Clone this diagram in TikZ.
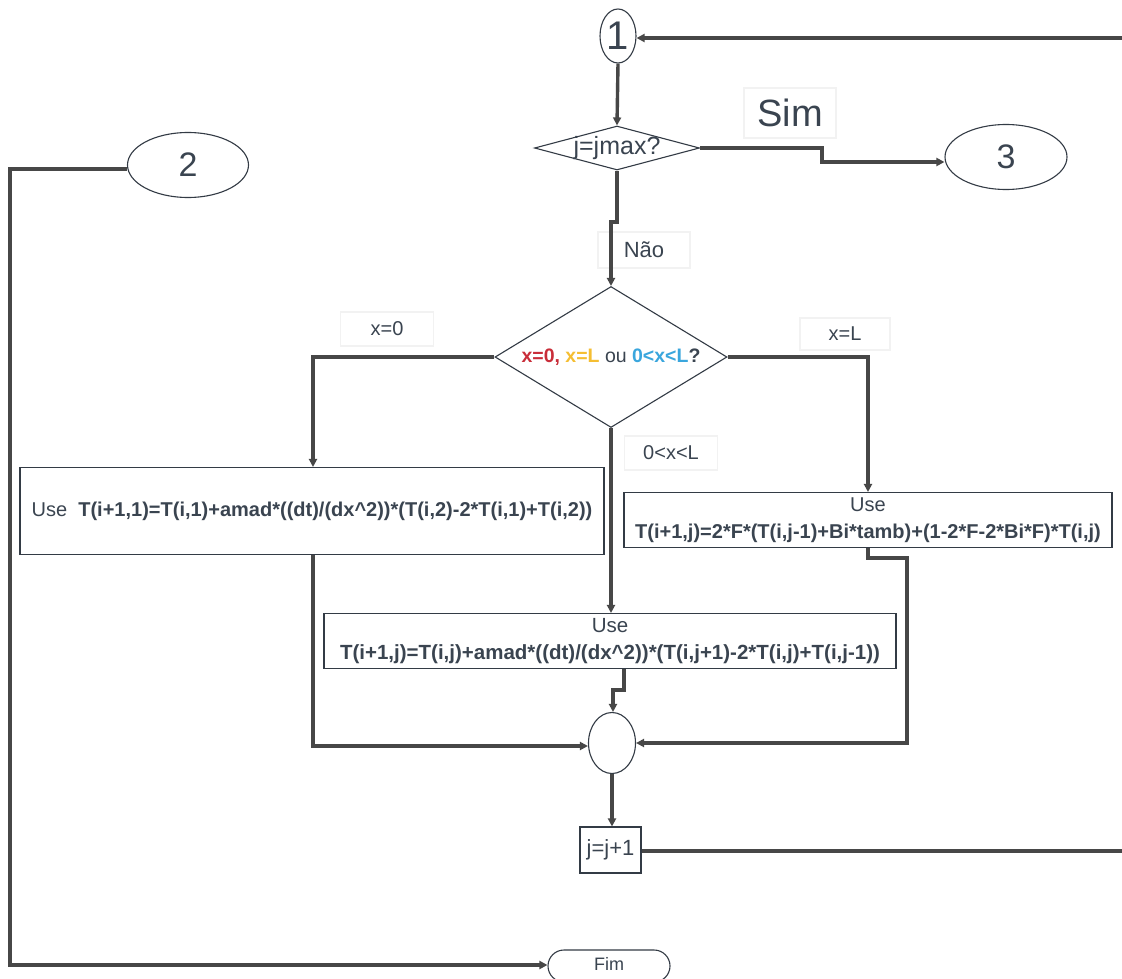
\documentclass[tikz,border=0pt]{standalone}
\usepackage{fontspec}
\setmainfont{Liberation Sans}
\usetikzlibrary{shapes.geometric,shapes.misc,arrows.meta}
\definecolor{ink}{HTML}{3A4450}
\definecolor{wire}{HTML}{474747}
\definecolor{edge}{HTML}{333B45}
\definecolor{lred}{HTML}{C92D39}
\definecolor{lyellow}{HTML}{F5BE32}
\definecolor{lblue}{HTML}{3AA6DD}
\tikzset{
  conn/.style={draw=wire, line width=3.4pt},
  arr/.style={conn, -{Triangle[length=8pt,width=8pt]}},
  oval/.style={ellipse, draw=edge, line width=1.1pt, fill=white, text=ink, inner sep=0pt},
  decision/.style={diamond, draw=edge, line width=1.1pt, fill=white, text=ink, inner sep=0pt},
  procbox/.style={rectangle, draw=edge, line width=1.1pt, fill=white, text=ink, inner sep=0pt, align=center},
  tag/.style={rectangle, draw=black!5, line width=1.2pt, fill=white, text=ink, inner sep=0pt},
}
\begin{document}
\begin{tikzpicture}[x=1pt,y=-1pt]
\useasboundingbox (0,0) rectangle (1122,979);
\fill[white] (0,0) rectangle (1122,979);

% nodes
\node[oval, minimum width=36pt, minimum height=54pt, font=\fontsize{40}{40}\selectfont] (one) at (618,36) {1};
\node[decision, aspect=3.75, minimum width=165pt, minimum height=44pt, font=\fontsize{25}{25}\selectfont] (jmax) at (617,148) {\makebox[0pt]{\raisebox{1pt}{j=jmax?}}};
\node[oval, minimum width=122pt, minimum height=65pt, font=\fontsize{34}{34}\selectfont] (three) at (1006,157) {3};
\node[oval, minimum width=121pt, minimum height=65pt, font=\fontsize{34}{34}\selectfont] (two) at (188,165) {2};
\node[decision, aspect=1.645, minimum width=232pt, minimum height=141pt, font=\fontsize{19.5}{19.5}\selectfont] (case) at (611,357)
  {\makebox[0pt]{\textcolor{lred}{\bfseries x=0,} \textcolor{lyellow}{\bfseries x=L} ou \textcolor{lblue}{\bfseries 0<x<L}\textbf{?}}};
\node[procbox, minimum width=584pt, minimum height=87pt, font=\fontsize{20}{20}\selectfont] (left) at (312,511)
  {Use\ \ \textbf{T(i+1,1)=T(i,1)+amad*((dt)/(dx\string^2))*(T(i,2)-2*T(i,1)+T(i,2))}};
\node[procbox, minimum width=488pt, minimum height=55pt, font=\fontsize{20}{27}\selectfont] (right) at (868,520)
  {Use\\\textbf{T(i+1,j)=2*F*(T(i,j-1)+Bi*tamb)+(1-2*F-2*Bi*F)*T(i,j)}};
\node[procbox, minimum width=572pt, minimum height=55pt, font=\fontsize{20.5}{27}\selectfont] (mid) at (610,641)
  {Use\\\textbf{T(i+1,j)=T(i,j)+amad*((dt)/(dx\string^2))*(T(i,j+1)-2*T(i,j)+T(i,j-1))}};
\node[oval, minimum width=47pt, minimum height=61pt] (merge) at (612,743) {};
\node[procbox, minimum width=61pt, minimum height=46pt, font=\fontsize{22}{22}\selectfont] (inc) at (610.5,850) {j=j+1};
\node[rounded rectangle, draw=edge, line width=1.1pt, fill=white, text=ink, minimum width=122pt, minimum height=32pt, inner sep=0pt, font=\fontsize{18}{18}\selectfont] (fim) at (609,966) {\raisebox{4pt}{Fim}};

% branch labels
\node[tag, minimum width=92pt, minimum height=50pt, font=\fontsize{38}{38}\selectfont] (sim) at (790,113) {Sim};
\node[tag, minimum width=92pt, minimum height=36pt, font=\fontsize{22}{22}\selectfont] (nao) at (644,250) {Não};
\node[tag, minimum width=93pt, minimum height=34pt, font=\fontsize{20}{20}\selectfont] (lx0) at (387,329) {x=0};
\node[tag, minimum width=90pt, minimum height=32pt, font=\fontsize{20}{20}\selectfont] (lxL) at (845,334) {x=L};
\node[tag, minimum width=93pt, minimum height=34pt, font=\fontsize{20}{20}\selectfont] (lmid) at (671,453) {0<x<L};

% free ends at the right margin
\coordinate (backin) at (1122,38);
\coordinate (backout) at (1122,851);

% connectors
\draw[arr] (backin) -- (one.east |- backin);
\draw[arr] (one.south) -- (jmax.north);
\draw[arr] (jmax.east) -- (822,148) -- (822,162) -- (three.west |- 0,162);
\draw[arr] (jmax.south) -- (617,222) -- (611,222) -- (case.north);
\draw[arr] (two.west |- 0,169) -- (10,169) -- (10,965) -- (fim.west |- 0,965);
\draw[arr] (case.west) -- (313,357) -- (left.north -| 313,0);
\draw[arr] (case.east) -- (868,357) -- (right.north);
\draw[arr] (case.south) -- (mid.north -| 611,0);
\draw[arr] (left.south -| 313,0) -- (313,746) -- (merge.west |- 0,746);
\draw[arr] (right.south) -- (868,558) -- (907,558) -- (907,743) -- (merge.east);
\draw[arr] (mid.south -| 624,0) -- (624,690) -- (613,690) -- (merge.north -| 613,0);
\draw[arr] (merge.south) -- (inc.north -| 612,0);
\draw[conn] (inc.east |- backout) -- (backout);
\end{tikzpicture}
\end{document}
